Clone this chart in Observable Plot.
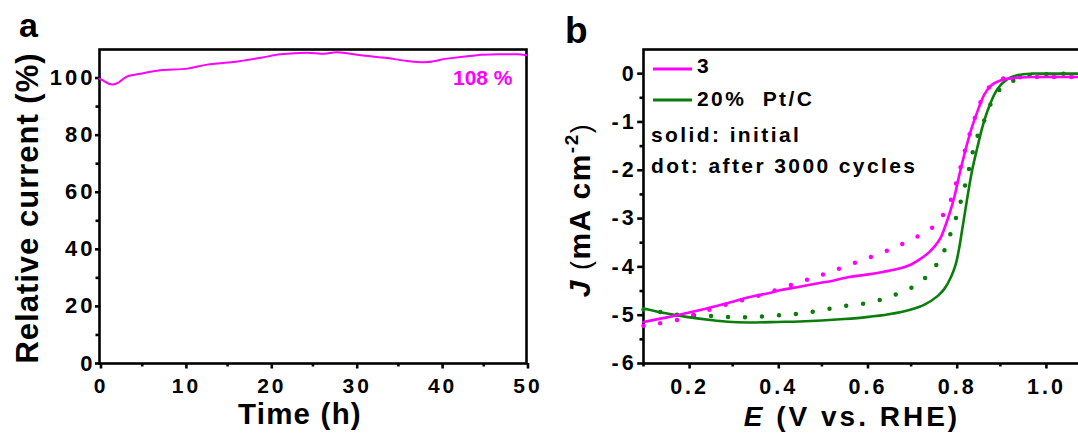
<!DOCTYPE html>
<html>
<head>
<meta charset="utf-8">
<script src="https://cdn.jsdelivr.net/npm/d3@7"></script>
<script src="https://cdn.jsdelivr.net/npm/@observablehq/plot@0.6"></script>
<style>
  html, body { margin: 0; padding: 0; background: #fff; overflow: hidden; }
  #figure { position: relative; width: 1078px; height: 434px; overflow: hidden; }
  #figure > svg { position: absolute; top: 0; }
  #panel-a g[aria-label="y-axis tick label"] text { letter-spacing: 3px; font-size: 22px; }
  #panel-a g[aria-label="x-axis tick label"] text { letter-spacing: 3px; font-size: 21px; }
  #panel-b g[aria-label*="tick label"] text { letter-spacing: 3px; font-size: 21.5px; }
  #notes { pointer-events: none; }
  #notes text { font-family: 'Liberation Sans', Arial, Helvetica, sans-serif; font-weight: bold; fill: #000; white-space: pre; }
</style>
</head>
<body>
<div id="figure"></div>
<script>
// ---- (a) chronoamperometric stability ----
const stabilityHours = [0, 0.5, 1.1, 1.7, 2.3, 3.2, 4.8, 7.1, 10.3, 12.6, 15.7, 18.9, 21.2, 24.3, 26.3, 27.8, 30.6, 33.7, 36.0, 38.4, 40.7, 44.2, 46.6, 48.9, 50];
const relativeCurrent = [99.8, 99.0, 98.0, 97.8, 98.6, 100.5, 101.5, 102.7, 103.3, 104.7, 105.6, 107.1, 108.3, 108.9, 108.5, 109.0, 108.0, 107.0, 106.0, 105.6, 106.8, 108.0, 108.3, 108.3, 108.0];
const retentionLabel = ["108 %"];
const timeTicks = [0, 10, 20, 30, 40, 50];
const timeMinorTicks = [5, 15, 25, 35, 45];
const currentTicks = [0, 20, 40, 60, 80, 100];
const currentMinorTicks = [10, 30, 50, 70, 90];

// ---- (b) ORR polarisation curves before / after cycling ----
const e3Initial = [0.1, 0.15, 0.2, 0.254, 0.3, 0.331, 0.377, 0.408, 0.45, 0.485, 0.527, 0.561, 0.6, 0.639, 0.676, 0.7, 0.72, 0.74, 0.755, 0.766, 0.776, 0.786, 0.797, 0.808, 0.82, 0.835, 0.85, 0.865, 0.88, 0.9, 0.93, 0.97, 1.1];
const j3Initial = [-5.14, -5.05, -4.95, -4.83, -4.72, -4.64, -4.55, -4.48, -4.41, -4.35, -4.28, -4.21, -4.16, -4.10, -4.03, -3.95, -3.84, -3.7, -3.55, -3.4, -3.17, -2.9, -2.55, -2.1, -1.65, -1.15, -0.75, -0.42, -0.24, -0.14, -0.09, -0.07, -0.07];
const e3Cycled = [0.1, 0.13, 0.175, 0.205, 0.25, 0.3, 0.35, 0.4, 0.446, 0.485, 0.52, 0.558, 0.593, 0.631, 0.666, 0.701, 0.74, 0.766, 0.789, 0.8, 0.812, 0.825, 0.84, 0.855, 0.875, 0.9, 0.93, 0.98, 1.1];
const j3Cycled = [-5.22, -5.18, -5.10, -5.02, -4.88, -4.74, -4.62, -4.47, -4.33, -4.21, -4.10, -3.97, -3.85, -3.72, -3.59, -3.43, -3.24, -3.0, -2.62, -2.3, -1.9, -1.45, -1.0, -0.6, -0.28, -0.12, -0.08, -0.07, -0.07];
const ePtInitial = [0.1, 0.15, 0.2, 0.25, 0.3, 0.35, 0.4, 0.45, 0.5, 0.55, 0.6, 0.65, 0.7, 0.73, 0.76, 0.775, 0.79, 0.8, 0.808, 0.815, 0.822, 0.83, 0.838, 0.848, 0.86, 0.875, 0.893, 0.915, 0.94, 0.97, 1.0, 1.1];
const jPtInitial = [-4.86, -4.96, -5.04, -5.10, -5.14, -5.15, -5.14, -5.13, -5.11, -5.08, -5.04, -4.98, -4.88, -4.78, -4.6, -4.45, -4.2, -3.95, -3.6, -3.2, -2.8, -2.35, -1.95, -1.55, -1.1, -0.68, -0.33, -0.12, -0.03, 0, 0, 0];
const ePtCycled = [0.1, 0.134, 0.172, 0.213, 0.254, 0.295, 0.336, 0.377, 0.422, 0.463, 0.508, 0.549, 0.594, 0.635, 0.672, 0.714, 0.751, 0.775, 0.79, 0.804, 0.815, 0.826, 0.845, 0.861, 0.88, 0.906, 0.948, 0.993, 1.1];
const jPtCycled = [-4.88, -4.93, -4.99, -5.0, -5.02, -5.04, -5.04, -5.02, -4.99, -4.95, -4.88, -4.81, -4.76, -4.67, -4.55, -4.36, -4.03, -3.65, -3.27, -2.89, -2.52, -2.13, -1.39, -1.04, -0.6, -0.26, -0.09, -0.02, 0];
const potentialTicks = [0.2, 0.4, 0.6, 0.8, 1.0];
const potentialMinorTicks = [0.1, 0.3, 0.5, 0.7, 0.9];
const densityTicks = [0, -1, -2, -3, -4, -5, -6];
const densityMinorTicks = [-0.5, -1.5, -2.5, -3.5, -4.5, -5.5];

const FONT = "'Liberation Sans', Arial, Helvetica, sans-serif";
const MAGENTA = "#ff00ff";
const GREEN = "#0a7d0a";
const AXIS_W = 2.6;
// letter-spacing of the tick labels (also added after the last glyph, so anchored labels are nudged back)
const SPACING = 3;

const zipXY = (xs, ys) => xs.map((x, i) => ({x, y: ys[i]}));
const baseStyle = {fontFamily: FONT, fontSize: "21px", fontWeight: "bold", color: "#000", background: "none", overflow: "visible"};

const figure = document.getElementById("figure");

// Panel (a)
const panelA = Plot.plot({
  width: 540, height: 434,
  marginLeft: 99, marginRight: 14, marginTop: 49, marginBottom: 71,
  style: baseStyle,
  x: {domain: [0, 50]},
  y: {domain: [0, 110]},
  marks: [
    Plot.axisX(timeMinorTicks, {tickSize: 3.5, strokeWidth: AXIS_W, tickFormat: () => "", label: null}),
    Plot.axisX(timeTicks, {tickSize: 5.5, tickPadding: 9, dx: SPACING / 2, strokeWidth: AXIS_W, label: null}),
    Plot.axisY(currentMinorTicks, {tickSize: 3.5, strokeWidth: AXIS_W, tickFormat: () => "", label: null}),
    Plot.axisY(currentTicks, {tickSize: 5.5, tickPadding: 0, dx: SPACING - 1.5, strokeWidth: AXIS_W, label: null}),
    Plot.frame({stroke: "#000", strokeWidth: AXIS_W}),
    Plot.line(zipXY(stabilityHours, relativeCurrent), {x: "x", y: "y", stroke: MAGENTA, strokeWidth: 2, curve: "catmull-rom"}),
    Plot.text(retentionLabel, {text: d => d, frameAnchor: "top-right", lineAnchor: "middle", dx: -14, dy: 29, textAnchor: "end", fill: MAGENTA, fontSize: 21, fontWeight: "bold"})
  ]
});
panelA.id = "panel-a";
panelA.style.left = "0px";
figure.appendChild(panelA);

// Panel (b): solid = initial, dotted = after 3000 cycles
const dotted = {strokeWidth: 4.5, strokeDasharray: "0 17", strokeLinecap: "round"};
const panelB = Plot.plot({
  width: 560, height: 434,
  marginLeft: 103, marginRight: 11, marginTop: 49, marginBottom: 71,
  style: baseStyle,
  x: {domain: [0.1, 1.1]},
  y: {domain: [-6, 0.5]},
  marks: [
    Plot.axisX(potentialMinorTicks, {tickSize: 3.5, strokeWidth: AXIS_W, tickFormat: () => "", label: null}),
    Plot.axisX(potentialTicks, {tickSize: 5.5, tickPadding: 9.5, dx: SPACING / 2, strokeWidth: AXIS_W, tickFormat: d3.format(".1f"), label: null}),
    Plot.axisY(densityMinorTicks, {tickSize: 3.5, strokeWidth: AXIS_W, tickFormat: () => "", label: null}),
    Plot.axisY(densityTicks, {tickSize: 5.5, tickPadding: 1, dx: -0.3, strokeWidth: AXIS_W, tickFormat: d => String(d), label: null}),
    Plot.frame({stroke: "#000", strokeWidth: AXIS_W}),
    Plot.line(zipXY(ePtCycled, jPtCycled), {x: "x", y: "y", stroke: GREEN, curve: "catmull-rom", ...dotted}),
    Plot.line(zipXY(e3Cycled, j3Cycled), {x: "x", y: "y", stroke: MAGENTA, curve: "catmull-rom", ...dotted}),
    Plot.line(zipXY(ePtInitial, jPtInitial), {x: "x", y: "y", stroke: GREEN, strokeWidth: 2.6, curve: "catmull-rom"}),
    Plot.line(zipXY(e3Initial, j3Initial), {x: "x", y: "y", stroke: MAGENTA, strokeWidth: 2.6, curve: "catmull-rom"})
  ]
});
panelB.id = "panel-b";
panelB.style.left = "540px";
figure.appendChild(panelB);

// Panel letters, axis titles and the legend of panel (b)
const notes = d3.select(figure).append("svg")
  .attr("id", "notes").attr("width", 1078).attr("height", 434).style("left", "0px");

notes.append("text").attr("x", 19).attr("y", 37).attr("font-size", 34).text("a");
notes.append("text").attr("x", 565).attr("y", 43).attr("font-size", 37).text("b");

notes.append("text")
  .attr("transform", "translate(38,208) rotate(-90)")
  .attr("text-anchor", "middle").attr("font-size", 31).attr("letter-spacing", 1)
  .text("Relative current (%)");
notes.append("text")
  .attr("x", 300).attr("y", 424).attr("text-anchor", "middle")
  .attr("font-size", 29.5).attr("letter-spacing", 1.2)
  .text("Time (h)");

const jTitle = notes.append("text")
  .attr("transform", "translate(590,210) rotate(-90)")
  .attr("text-anchor", "middle").attr("font-size", 30).attr("letter-spacing", 1.5);
jTitle.append("tspan").attr("font-style", "italic").text("J");
jTitle.append("tspan").attr("font-weight", "normal").attr("font-size", 27).text(" (");
jTitle.append("tspan").text("mA cm");
jTitle.append("tspan").attr("font-size", 19).attr("dy", -12).text("-2");
jTitle.append("tspan").attr("font-weight", "normal").attr("font-size", 27).attr("dy", 12).text(")");

const eTitle = notes.append("text")
  .attr("x", 852).attr("y", 426).attr("text-anchor", "middle")
  .attr("font-size", 28).attr("letter-spacing", 3);
eTitle.append("tspan").attr("font-style", "italic").text("E");
eTitle.append("tspan").text(" (V vs. RHE)");

const legend = notes.append("g").attr("font-size", 21).attr("letter-spacing", 2.4);
legend.append("line").attr("x1", 653).attr("x2", 692).attr("y1", 69).attr("y2", 69)
  .attr("stroke", MAGENTA).attr("stroke-width", 3);
legend.append("text").attr("x", 697).attr("y", 73).text("3");
legend.append("line").attr("x1", 653).attr("x2", 692).attr("y1", 100).attr("y2", 100)
  .attr("stroke", GREEN).attr("stroke-width", 3);
legend.append("text").attr("x", 697).attr("y", 106).text("20%  Pt/C");
legend.append("text").attr("x", 651).attr("y", 142).text("solid: initial");
legend.append("text").attr("x", 651).attr("y", 173).text("dot: after 3000 cycles");
</script>
</body>
</html>
